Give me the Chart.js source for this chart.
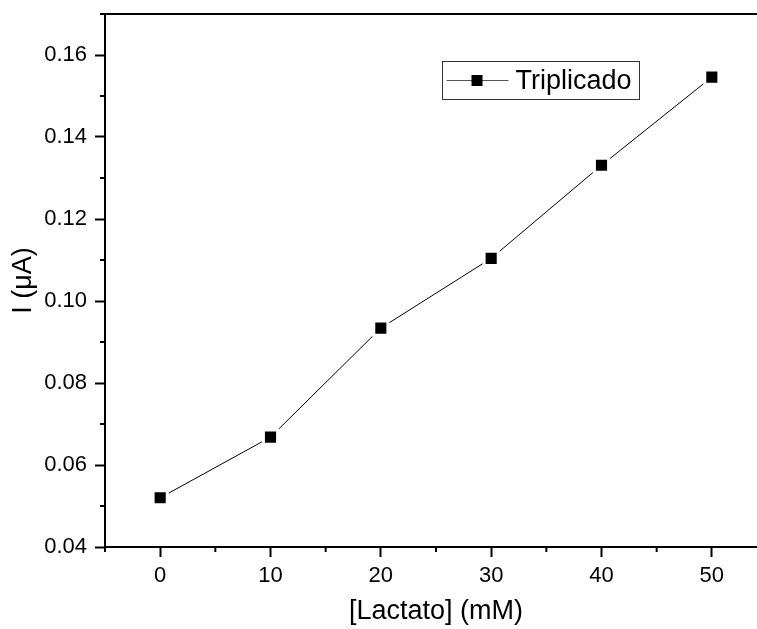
<!DOCTYPE html>
<html>
<head>
<meta charset="utf-8">
<script src="https://cdn.jsdelivr.net/npm/chart.js@4"></script>
<style>
  html, body { margin: 0; padding: 0; background: #fff; overflow: hidden; }
  #wrap { width: 780px; height: 629px; }
</style>
</head>
<body>
<div id="wrap"><canvas id="myChart" width="780" height="629"></canvas></div>
<script>
// datos
const lactato = [0, 10, 20, 30, 40, 50];
const corriente = [0.0520, 0.0668, 0.0934, 0.1104, 0.1331, 0.1546];

const xTicks = [0, 10, 20, 30, 40, 50];
const xMinor = [-5, 5, 15, 25, 35, 45, 55];
const yTicks = [0.04, 0.06, 0.08, 0.10, 0.12, 0.14, 0.16];
const yMinor = [0.05, 0.07, 0.09, 0.11, 0.13, 0.15, 0.17];

const fuente = 'Arial, "Liberation Sans", sans-serif';

function sinPadding(s) {
  s.paddingTop = 0;
  s.paddingBottom = 0;
  s.paddingLeft = 0;
  s.paddingRight = 0;
}

// ticks menores y leyenda estilo Origin
const extras = {
  id: 'extras',
  afterDraw(chart) {
    const ctx = chart.ctx;
    const xs = chart.scales.x;
    const ys = chart.scales.y;
    ctx.save();
    ctx.strokeStyle = '#000';
    ctx.lineWidth = 2;
    xMinor.forEach(v => {
      const px = xs.getPixelForValue(v);
      ctx.beginPath();
      ctx.moveTo(px, xs.top);
      ctx.lineTo(px, xs.top + 5);
      ctx.stroke();
    });
    yMinor.forEach(v => {
      const py = ys.getPixelForValue(v);
      ctx.beginPath();
      ctx.moveTo(ys.right, py);
      ctx.lineTo(ys.right - 5, py);
      ctx.stroke();
    });

    // leyenda
    const bx = 442.5, by = 61.5, bw = 197, bh = 38;
    ctx.lineWidth = 1;
    ctx.strokeStyle = '#333';
    ctx.strokeRect(bx, by, bw, bh);
    const cy = by + bh / 2;
    ctx.strokeStyle = '#555';
    ctx.beginPath();
    ctx.moveTo(bx + 4, cy);
    ctx.lineTo(bx + 66, cy);
    ctx.stroke();
    ctx.fillStyle = '#000';
    ctx.fillRect(bx + 29, cy - 5.5, 11, 11);
    ctx.font = '27px ' + fuente;
    ctx.textBaseline = 'middle';
    ctx.textAlign = 'left';
    ctx.fillText(chart.data.datasets[0].label, bx + 73, cy + 1);
    ctx.restore();
  }
};

const ctx = document.getElementById('myChart').getContext('2d');
new Chart(ctx, {
  type: 'line',
  data: {
    datasets: [
      {
        label: 'Triplicado',
        data: lactato.map((v, i) => ({ x: v, y: corriente[i] })),
        borderColor: '#000',
        borderWidth: 1,
        pointStyle: 'rect',
        pointRadius: 10,
        pointBackgroundColor: '#000',
        pointBorderColor: '#fff',
        pointBorderWidth: 3,
        tension: 0
      }
    ]
  },
  options: {
    responsive: false,
    animation: false,
    layout: { padding: { top: 14, right: 0, left: 0, bottom: 0 } },
    plugins: {
      legend: { display: false },
      tooltip: { enabled: false }
    },
    scales: {
      x: {
        type: 'linear',
        min: -5,
        max: 55,
        afterBuildTicks: s => { s.ticks = xTicks.map(v => ({ value: v })); },
        afterFit: s => { s.height = 82; sinPadding(s); },
        border: { display: true, color: '#000', width: 2 },
        grid: { drawOnChartArea: false, tickLength: 10, tickWidth: 2, tickColor: '#000' },
        ticks: { color: '#000', padding: 6, font: { family: fuente, size: 22 }, maxRotation: 0 },
        title: {
          display: true,
          text: '[Lactato] (mM)',
          color: '#000',
          font: { family: fuente, size: 27 },
          padding: { top: 0, bottom: 1 }
        }
      },
      x2: {
        type: 'linear',
        position: 'top',
        min: -5,
        max: 55,
        afterFit: s => { s.height = 0; sinPadding(s); },
        border: { display: true, color: '#000', width: 2 },
        grid: { display: false },
        ticks: { display: false }
      },
      y: {
        type: 'linear',
        min: 0.04,
        max: 0.17,
        afterBuildTicks: s => { s.ticks = yTicks.map(v => ({ value: v })); },
        afterFit: s => { s.width = 105; sinPadding(s); },
        border: { display: true, color: '#000', width: 2 },
        grid: { drawOnChartArea: false, tickLength: 10, tickWidth: 2, tickColor: '#000' },
        ticks: {
          color: '#000',
          padding: 8,
          font: { family: fuente, size: 22 },
          callback: v => v.toFixed(2)
        },
        title: {
          display: true,
          text: 'I (μA)',
          color: '#000',
          font: { family: fuente, size: 27 },
          padding: { top: 7, bottom: 0 }
        }
      }
    }
  },
  plugins: [extras]
});
</script>
</body>
</html>
